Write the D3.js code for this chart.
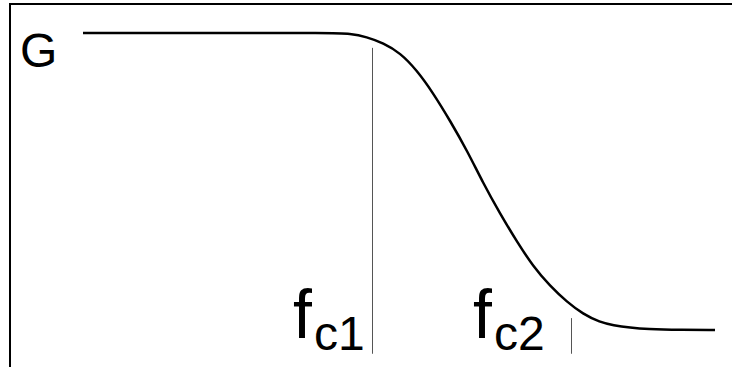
<!DOCTYPE html>
<html>
<head>
<meta charset="utf-8">
<script src="https://cdn.jsdelivr.net/npm/d3@7"></script>
<style>
  html, body { margin: 0; padding: 0; background: #fff; }
  svg { display: block; }
  text { font-family: "Liberation Sans", Arial, sans-serif; fill: #000; }
</style>
</head>
<body>
<svg id="chart" width="732" height="367"></svg>
<script>
// Normalised frequency (0..100) and gain (0..1)
const freq = [0, 20, 39.6, 42.2, 44.9, 47.5, 50.2, 52.8, 55.4, 58.1, 60.8, 63.3, 66.0, 68.7, 71.2, 73.9, 76.6, 79.1, 81.8, 83.9, 86.6, 89.2, 94.5, 100];
const gain = [1.0, 1.0, 1.0, 0.998, 0.987, 0.966, 0.933, 0.875, 0.798, 0.704, 0.603, 0.495, 0.391, 0.296, 0.215, 0.148, 0.094, 0.054, 0.026, 0.016, 0.008, 0.003, 0.0, 0.0];
const markerNames = ["c1", "c2"];
const markerFreq = [45.7, 77.2];
const markerTop = [0.95, 0.04];
const markerBottom = [-0.08, -0.08];
const yLabel = "G";
const markerLabel = "f";

const W = 732, H = 367;
const svg = d3.select("#chart");

const x = d3.scaleLinear().domain([0, 100]).range([83, 715]);
const y = d3.scaleLinear().domain([0, 1]).range([330, 33]);

// frame: top and left lines only
svg.append("line").attr("x1", 9).attr("x2", W).attr("y1", 4).attr("y2", 4)
  .attr("stroke", "#000").attr("stroke-width", 2);
svg.append("line").attr("x1", 10).attr("x2", 10).attr("y1", 3).attr("y2", H)
  .attr("stroke", "#000").attr("stroke-width", 2);

// marker lines
markerFreq.forEach((f, i) => {
  svg.append("line")
    .attr("x1", Math.round(x(f)) + 0.5).attr("x2", Math.round(x(f)) + 0.5)
    .attr("y1", y(markerTop[i])).attr("y2", y(markerBottom[i]))
    .attr("stroke", "#555").attr("stroke-width", 1);
});

// response curve
const pts = freq.map((f, i) => [f, gain[i]]);
const line = d3.line().x(d => x(d[0])).y(d => y(d[1])).curve(d3.curveBasis);
svg.append("path").datum(pts)
  .attr("d", line)
  .attr("fill", "none").attr("stroke", "#000").attr("stroke-width", 2.5)
  .attr("stroke-linecap", "butt");

// labels
svg.append("text").attr("x", 20).attr("y", 67)
  .style("font-size", "48px").text(yLabel);

const labelX = [293, 473];
markerNames.forEach((n, i) => {
  const t = svg.append("text").attr("x", labelX[i]).attr("y", 338)
    .style("font-size", "68px");
  t.append("tspan").text(markerLabel);
  t.append("tspan").attr("dx", 2).attr("dy", 12).style("font-size", "48px").text(n);
});
</script>
</body>
</html>
